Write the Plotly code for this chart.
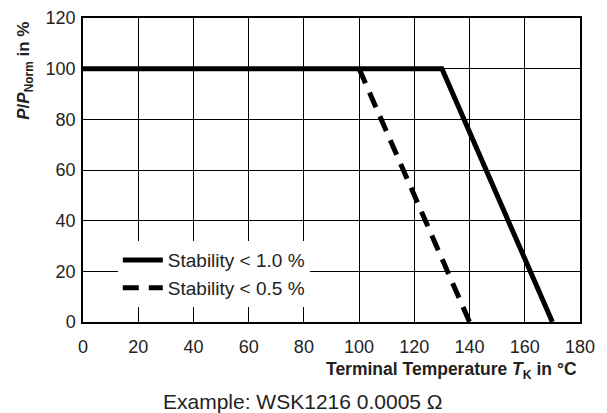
import plotly.graph_objects as go

# Data
temp_stab10 = [0, 130, 170]
power_stab10 = [100, 100, 0]
temp_stab05 = [100, 140]
power_stab05 = [100, 0]
x_ticks = [0, 20, 40, 60, 80, 100, 120, 140, 160, 180]
y_ticks = [0, 20, 40, 60, 80, 100, 120]

FONT = "Liberation Sans, Arial, Helvetica, sans-serif"
TXT = "#222"

fig = go.Figure()
fig.add_trace(go.Scatter(x=temp_stab10, y=power_stab10, mode="lines",
                         name="Stability < 1.0 %",
                         line=dict(color="black", width=5)))
fig.add_trace(go.Scatter(x=temp_stab05, y=power_stab05, mode="lines",
                         name="Stability < 0.5 %",
                         line=dict(color="black", width=5, dash="16px,10px")))

fig.update_layout(
    width=607, height=413,
    margin=dict(l=75, r=35, t=10, b=99, autoexpand=False),
    paper_bgcolor="white", plot_bgcolor="white",
    font=dict(family=FONT, size=18, color=TXT),
    showlegend=True,
    legend=dict(x=0.070, y=0.266, xanchor="left", yanchor="top",
                bgcolor="white", borderwidth=0, itemwidth=40,
                font=dict(family=FONT, size=19, color=TXT),
                tracegroupgap=0),
    xaxis=dict(range=[0, 180], tickvals=x_ticks, showgrid=True,
               gridcolor="black", gridwidth=1.3, zeroline=False,
               showline=True, linecolor="black", linewidth=1.5, mirror=True,
               ticks="", ticklabelstandoff=8, automargin=False,
               tickfont=dict(family=FONT, size=18, color=TXT)),
    yaxis=dict(range=[0, 120], tickvals=y_ticks, showgrid=True,
               gridcolor="black", gridwidth=1.3, zeroline=False,
               showline=True, linecolor="black", linewidth=1.5, mirror=True,
               ticks="", ticklabelstandoff=2, automargin=False,
               tickfont=dict(family=FONT, size=18, color=TXT)),
    annotations=[
        dict(text="<b>Terminal Temperature <i>T</i><sub>K</sub> in °C</b>",
             xref="paper", yref="paper", x=0.998, y=-0.161,
             xanchor="right", yanchor="middle", showarrow=False,
             font=dict(family=FONT, size=17.5, color=TXT)),
        dict(text="Example: WSK1216 0.0005 Ω",
             xref="paper", yref="paper", x=0.443, y=-0.26,
             xanchor="center", yanchor="middle", showarrow=False,
             font=dict(family=FONT, size=21, color=TXT)),
        dict(text="<b><i>P</i>/<i>P</i><sub>Norm</sub> in %</b>",
             xref="paper", yref="paper", x=-0.117, y=0.826,
             xanchor="center", yanchor="middle", textangle=-90,
             showarrow=False,
             font=dict(family=FONT, size=17, color=TXT)),
    ],
)

fig.write_html("out.html")
